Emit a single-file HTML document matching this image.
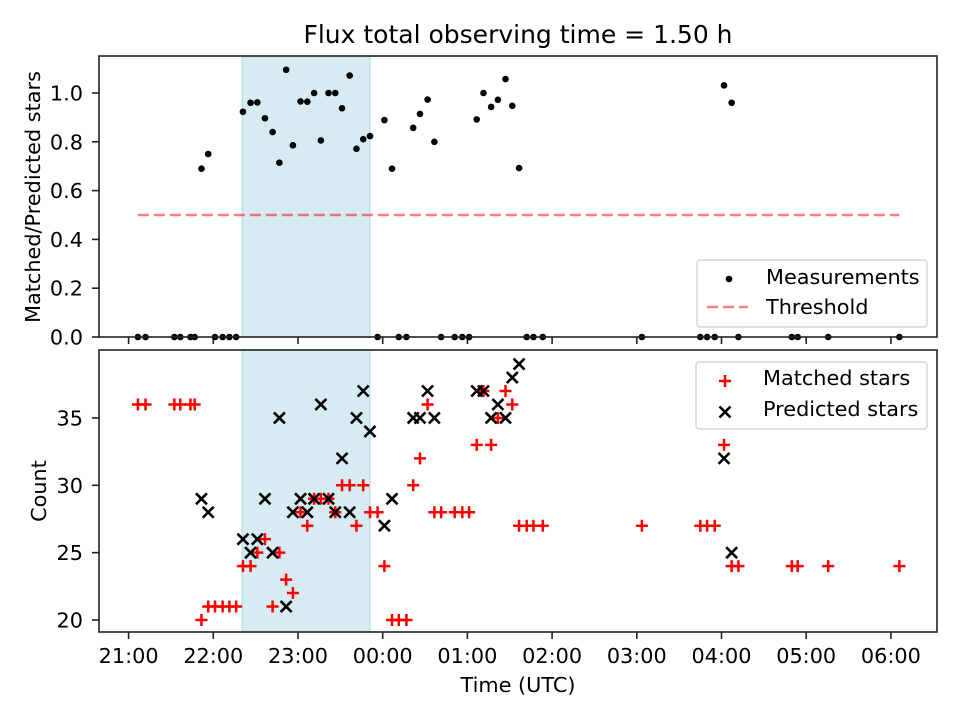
<!DOCTYPE html>
<html><head><meta charset="utf-8"><style>
body{margin:0;background:#fff}
svg{display:block;font-family:"DejaVu Sans","Liberation Sans",sans-serif}
</style></head><body>
<svg id="chart" width="960" height="720" viewBox="0 0 960 720"></svg>
<script>
// Data (time in hours since previous midnight; >24 = next day)
const times=[21.11,21.20,21.54,21.61,21.73,21.78,21.86,21.94,22.02,22.11,22.19,22.27,22.35,22.44,22.52,22.61,22.70,22.78,22.86,22.94,23.03,23.11,23.19,23.27,23.36,23.44,23.52,23.61,23.69,23.77,23.85,23.94,24.02,24.11,24.19,24.28,24.36,24.44,24.53,24.61,24.69,24.85,24.94,25.02,25.11,25.19,25.28,25.36,25.45,25.53,25.61,25.70,25.78,25.89,27.06,27.75,27.83,27.92,28.03,28.12,28.20,28.83,28.90,29.26,30.10];
const matched=[36,36,36,36,36,36,20,21,21,21,21,21,24,24,25,26,21,25,23,22,28,27,29,29,29,28,30,30,27,30,28,28,24,20,20,20,30,32,36,28,28,28,28,28,33,37,33,35,37,36,27,27,27,27,27,27,27,27,33,24,24,24,24,24,24];
const predicted=[null,null,null,null,null,null,29,28,null,null,null,null,26,25,26,29,25,35,21,28,29,28,29,36,29,28,32,28,35,37,34,null,27,29,null,null,35,35,37,35,null,null,null,null,37,37,35,36,35,38,39,null,null,null,null,null,null,null,32,25,null,null,null,null,null];
const threshold=0.5;
const spanStart=22.34, spanEnd=23.85;
const xTickLabels=["21:00","22:00","23:00","00:00","01:00","02:00","03:00","04:00","05:00","06:00"];
const xTickHours=[21,22,23,24,25,26,27,28,29,30];
const topTicks=[0,0.2,0.4,0.6,0.8,1.0];
const botTicks=[20,25,30,35];

const NS="http://www.w3.org/2000/svg";
const svg=document.getElementById('chart');
function el(tag,attrs,parent){const e=document.createElementNS(NS,tag);for(const k in attrs)e.setAttribute(k,attrs[k]);(parent||svg).appendChild(e);return e;}
const L=99,R=937,T1=56,B1=337,T2=350,B2=632;
const FS='20.8';
const xs=t=>382.7+(t-24)*84.7;
const y1=v=>337-v*244;
const y2=c=>620-(c-20)*13.47;

// title
let t=el('text',{x:518,y:43,'text-anchor':'middle','font-size':'25'});t.textContent="Flux total observing time = 1.50 h";



// panels
[[T1,B1,'top'],[T2,B2,'bottom']].forEach(([T,B,n])=>{
  let s=el('rect',{x:xs(spanStart),y:T,width:xs(spanEnd)-xs(spanStart),height:B-T,fill:'#add8e6','fill-opacity':0.5,stroke:'#add8e6','stroke-width':1});
  
  
  xTickHours.forEach((h,i)=>{
    el('line',{x1:xs(h),x2:xs(h),y1:B,y2:B+7,stroke:'#222','stroke-width':1.6});
    if(n==='bottom'){let tl=el('text',{x:xs(h),y:B+31,'text-anchor':'middle','font-size':FS});tl.textContent=xTickLabels[i];
      
      }
  });
});
topTicks.forEach(v=>{el('line',{x1:L-7,x2:L,y1:y1(v),y2:y1(v),stroke:'#222','stroke-width':1.6});
  let tl=el('text',{x:83,y:y1(v)+7.5,'text-anchor':'end','font-size':FS});tl.textContent=v.toFixed(1);
  
  });
botTicks.forEach(v=>{el('line',{x1:L-7,x2:L,y1:y2(v),y2:y2(v),stroke:'#222','stroke-width':1.6});
  let tl=el('text',{x:83,y:y2(v)+7.5,'text-anchor':'end','font-size':FS});tl.textContent=v;
  
  });

// threshold
let th=el('line',{x1:xs(times[0]),x2:xs(times[times.length-1]),y1:y1(threshold),y2:y1(threshold),stroke:'#ff0000','stroke-opacity':0.5,'stroke-width':2.4,'stroke-dasharray':'11,5'});



// measurements
times.forEach((tt,i)=>{
  const r=predicted[i]?matched[i]/predicted[i]:0;
  let c=el('circle',{cx:xs(tt),cy:y1(r),r:3.3,fill:'#000'});
  
  
});
// bottom markers
times.forEach((tt,i)=>{
  const x=xs(tt),y=y2(matched[i]);
  let p=el('path',{d:`M${x-6},${y}H${x+6}M${x},${y-6}V${y+6}`,stroke:'#ff0000','stroke-width':2.5,fill:'none'});
  
  
});
times.forEach((tt,i)=>{
  if(predicted[i]==null)return;
  const x=xs(tt),y=y2(predicted[i]),d=5.5;
  let p=el('path',{d:`M${x-d},${y-d}L${x+d},${y+d}M${x-d},${y+d}L${x+d},${y-d}`,stroke:'#000','stroke-width':2.6,fill:'none'});
  
  
});

// frames
[[T1,B1],[T2,B2]].forEach(([T,B])=>{let f=el('rect',{x:L,y:T,width:R-L,height:B-T,fill:'none',stroke:'#222','stroke-width':1.6});
  
  });

// axis labels
let a=el('text',{x:518,y:692,'text-anchor':'middle','font-size':FS});a.textContent="Time (UTC)";


a=el('text',{x:0,y:0,'text-anchor':'middle','font-size':FS,transform:'translate(40,197) rotate(-90)'});a.textContent="Matched/Predicted stars";


a=el('text',{x:0,y:0,'text-anchor':'middle','font-size':FS,transform:'translate(46,491) rotate(-90)'});a.textContent="Count";



// legends
let lg=el('rect',{x:697,y:260,width:230,height:67,rx:3,fill:'#fff','fill-opacity':0.8,stroke:'#ccc','stroke-width':1.2});


el('circle',{cx:729,cy:279,r:3.3,fill:'#000'});
let lt=el('text',{x:766,y:284,'font-size':FS});lt.textContent="Measurements";


el('line',{x1:707,x2:748,y1:307,y2:307,stroke:'#ff0000','stroke-opacity':0.5,'stroke-width':2.4,'stroke-dasharray':'11,5'});
lt=el('text',{x:766,y:314,'font-size':FS});lt.textContent="Threshold";



lg=el('rect',{x:696,y:362,width:231,height:67,rx:3,fill:'#fff','fill-opacity':0.8,stroke:'#ccc','stroke-width':1.2});


el('path',{d:'M719,381H731M725,375V387',stroke:'#ff0000','stroke-width':2.5});
lt=el('text',{x:763,y:385,'font-size':FS});lt.textContent="Matched stars";


el('path',{d:'M719.5,406.5L730.5,417.5M719.5,417.5L730.5,406.5',stroke:'#000','stroke-width':2.6});
lt=el('text',{x:763,y:416,'font-size':FS});lt.textContent="Predicted stars";


</script>
</body></html>
